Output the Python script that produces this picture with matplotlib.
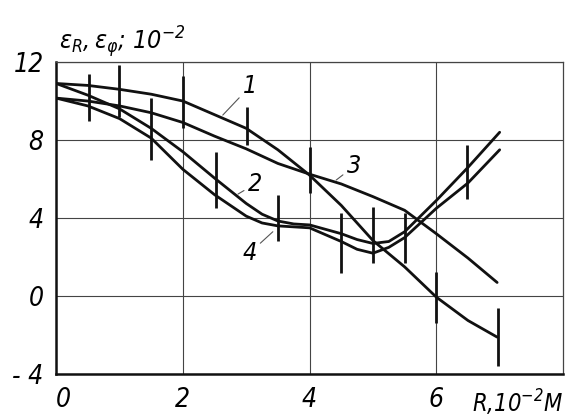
import numpy as np
import matplotlib
matplotlib.use('Agg')
import matplotlib.pyplot as plt

plt.rcParams['font.family'] = ['DejaVu Sans']
plt.rcParams['font.style'] = 'italic'
plt.rcParams['font.stretch'] = 'condensed'
plt.rcParams['mathtext.fontset'] = 'dejavusans'

# curves (R in 10^-2 m, strain in 10^-2)
R_a = [0, 0.5, 1, 1.5, 2, 2.5, 3, 3.5, 4, 4.5, 5, 5.5, 6, 6.5, 6.96]
eps1 = [10.9, 10.8, 10.6, 10.35, 10.0, 9.3, 8.6, 7.5, 6.2, 4.65, 2.85, 1.5, -0.05, -1.25, -2.1]
eps3 = [10.15, 10.0, 9.75, 9.4, 8.9, 8.2, 7.55, 6.8, 6.25, 5.75, 5.1, 4.4, 3.2, 1.95, 0.7]
R_b = [0, 0.5, 1, 1.5, 2, 2.5, 3, 3.25, 3.5, 3.75, 4, 4.5, 4.75, 5, 5.25, 5.5, 6, 6.5, 7.0]
eps2 = [10.9, 10.3, 9.6, 8.6, 7.4, 6.05, 4.75, 4.2, 3.85, 3.7, 3.65, 3.2, 2.9, 2.7, 2.8, 3.3, 4.9, 6.6, 8.4]
eps4 = [10.15, 9.75, 9.1, 8.1, 6.5, 5.2, 4.1, 3.75, 3.6, 3.55, 3.5, 2.8, 2.4, 2.2, 2.5, 3.0, 4.5, 5.8, 7.5]

# scatter bars
bar_R = [0.52, 1.0, 1.5, 2.0, 2.53, 3.02, 3.5, 4.0, 4.5, 5.0, 5.5, 6.0, 6.48, 6.97]
bar_lo = [9.0, 9.2, 7.0, 8.6, 4.5, 7.75, 2.85, 5.3, 1.2, 1.7, 1.7, -1.4, 5.0, -3.6]
bar_hi = [11.4, 11.85, 10.15, 11.3, 7.4, 9.7, 5.2, 7.65, 4.25, 4.55, 4.25, 1.25, 7.75, -0.6]

xticks = [0, 2, 4, 6]
yticks = [-4, 0, 4, 8, 12]
ytick_labels = ['- 4', '0', '4', '8', '12']

ink = '#111111'

fig = plt.figure(figsize=(5.67, 4.19), dpi=100)
ax = fig.add_axes([0.099, 0.107, 0.894, 0.745])

for R, e in [(R_a, eps1), (R_b, eps2), (R_a, eps3), (R_b, eps4)]:
    ax.plot(R, e, color=ink, lw=2.0, solid_capstyle='round', solid_joinstyle='round')
ax.vlines(bar_R, bar_lo, bar_hi, color=ink, lw=2.0)

ax.set_xlim(0, 8)
ax.set_ylim(-4, 12)
ax.set_xticks(xticks)
ax.set_xticklabels([str(t) for t in xticks], fontsize=19)
ax.set_yticks(yticks)
ax.set_yticklabels(ytick_labels, fontsize=19)
ax.tick_params(length=0, pad=9)
ax.get_xticklabels()[0].set_ha('left')
ax.grid(True, color='#444444', lw=0.8)

for s in ['left', 'bottom']:
    ax.spines[s].set_linewidth(1.8)
    ax.spines[s].set_color(ink)
for s in ['top', 'right']:
    ax.spines[s].set_linewidth(0.9)
    ax.spines[s].set_color('#444444')

# curve numbers with leaders
lead = dict(arrowstyle='-', lw=0.8, color='#555555', shrinkA=1, shrinkB=0)
ax.annotate('1', xy=(2.63, 9.28), xytext=(3.06, 10.75), fontsize=18, ha='center', va='center', arrowprops=lead)
ax.annotate('2', xy=(2.87, 5.23), xytext=(3.14, 5.75), fontsize=18, ha='center', va='center', arrowprops=lead)
ax.annotate('3', xy=(4.42, 5.95), xytext=(4.7, 6.65), fontsize=18, ha='center', va='center', arrowprops=lead)
ax.annotate('4', xy=(3.42, 3.3), xytext=(3.05, 2.2), fontsize=18, ha='center', va='center', arrowprops=lead)

ax.text(0.05, 12.65, r'$\varepsilon_R,\varepsilon_\varphi$; 10$^{-2}$', fontsize=18,
        ha='left', va='baseline', clip_on=False)
ax.text(6.57, -4.7, r'R,10$^{-2}$M', fontsize=17, ha='left', va='top', clip_on=False)

fig.savefig('out.png', dpi=100)
